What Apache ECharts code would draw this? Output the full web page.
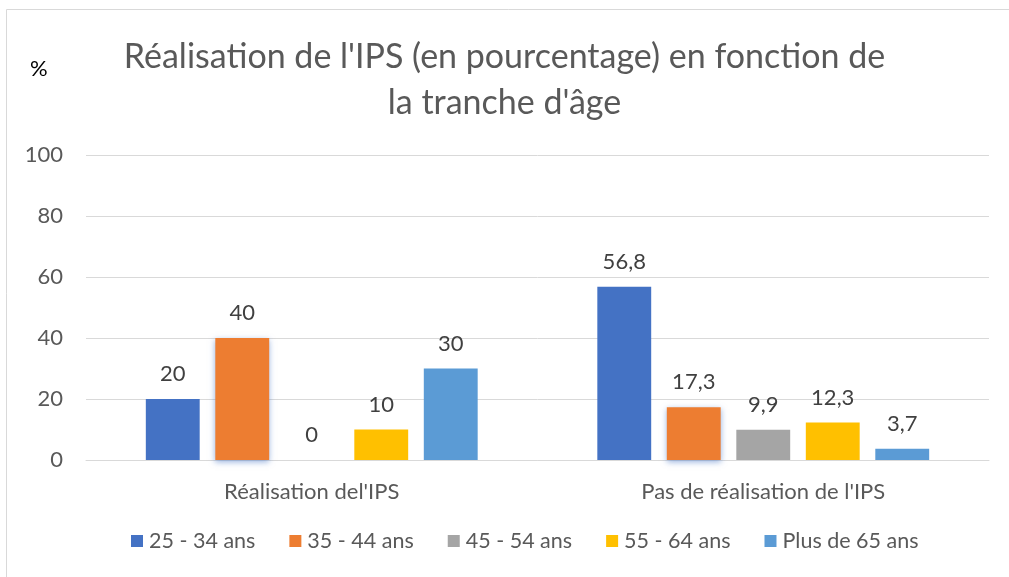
<!DOCTYPE html>
<html>
<head>
<meta charset="utf-8">
<script src="https://cdn.jsdelivr.net/npm/echarts@6/dist/echarts.min.js"></script>
<style>html,body{margin:0;padding:0;background:#fff}#c{width:1009px;height:577px}</style>
</head>
<body>
<div id="c"></div>
<script>
const categories = ["Réalisation del'IPS", "Pas de réalisation de l'IPS"];
const seriesNames = ["25 - 34 ans", "35 - 44 ans", "45 - 54 ans", "55 - 64 ans", "Plus de 65 ans"];
const s25_34 = [20, 56.8];
const s35_44 = [40, 17.3];
const s45_54 = [0, 9.9];
const s55_64 = [10, 12.3];
const s65plus = [30, 3.7];
const yTicks = [0, 20, 40, 60, 80, 100];
const colors = ["#4472C4", "#ED7D31", "#A5A5A5", "#FFC000", "#5B9BD5"];

const FONT = "Lato, 'Noto Sans', sans-serif";
const values = [s25_34, s35_44, s45_54, s55_64, s65plus];
const chart = echarts.init(document.getElementById('c'));
chart.setOption({
  animation: false,
  textStyle: { fontFamily: FONT },
  title: {
    text: "Réalisation de l'IPS (en pourcentage) en fonction de\nla tranche d'âge",
    left: 'center',
    top: 29,
    textStyle: { fontFamily: FONT, fontSize: 34, fontWeight: 'normal', color: '#595959', lineHeight: 46 }
  },
  graphic: [
    { type: 'rect', shape: { x: 6.5, y: 9.5, width: 1100, height: 700 }, style: { fill: 'none', stroke: '#d9d9d9', lineWidth: 1 }, silent: true },
    { type: 'text', left: 30, top: 58, style: { text: '%', font: "22px " + FONT, fill: '#000' } }
  ],
  legend: {
    data: seriesNames,
    bottom: 20,
    left: 126,
    itemWidth: 12,
    itemHeight: 12,
    itemGap: 34,
    icon: 'rect',
    textStyle: { fontFamily: FONT, fontSize: 21.5, color: '#595959', padding: [0, 0, 0, 1] }
  },
  grid: { left: 86, right: 20, top: 155, bottom: 117, containLabel: false },
  xAxis: {
    type: 'category',
    data: categories,
    axisLine: { lineStyle: { color: '#d9d9d9', width: 1 } },
    axisTick: { show: false },
    axisLabel: { fontFamily: FONT, fontSize: 22, color: '#595959', margin: 21 }
  },
  yAxis: {
    type: 'value',
    min: yTicks[0],
    max: yTicks[yTicks.length - 1],
    interval: 20,
    axisLine: { show: false },
    axisTick: { show: false },
    splitLine: { lineStyle: { color: '#d9d9d9', width: 1 } },
    axisLabel: { fontFamily: FONT, fontSize: 22, color: '#595959', margin: 23 }
  },
  series: seriesNames.map((n, i) => ({
    name: n,
    type: 'bar',
    data: values[i],
    barGap: '29%',
    barCategoryGap: '26.5%',
    itemStyle: Object.assign({ color: colors[i] }, i === 1 ? { shadowColor: 'rgba(68,114,196,0.55)', shadowBlur: 6, shadowOffsetY: 2 } : {}),
    label: {
      show: true,
      position: 'top',
      distance: 14,
      fontFamily: FONT,
      fontSize: 22,
      color: '#404040',
      formatter: p => String(p.value).replace('.', ',')
    }
  }))
});
</script>
</body>
</html>
